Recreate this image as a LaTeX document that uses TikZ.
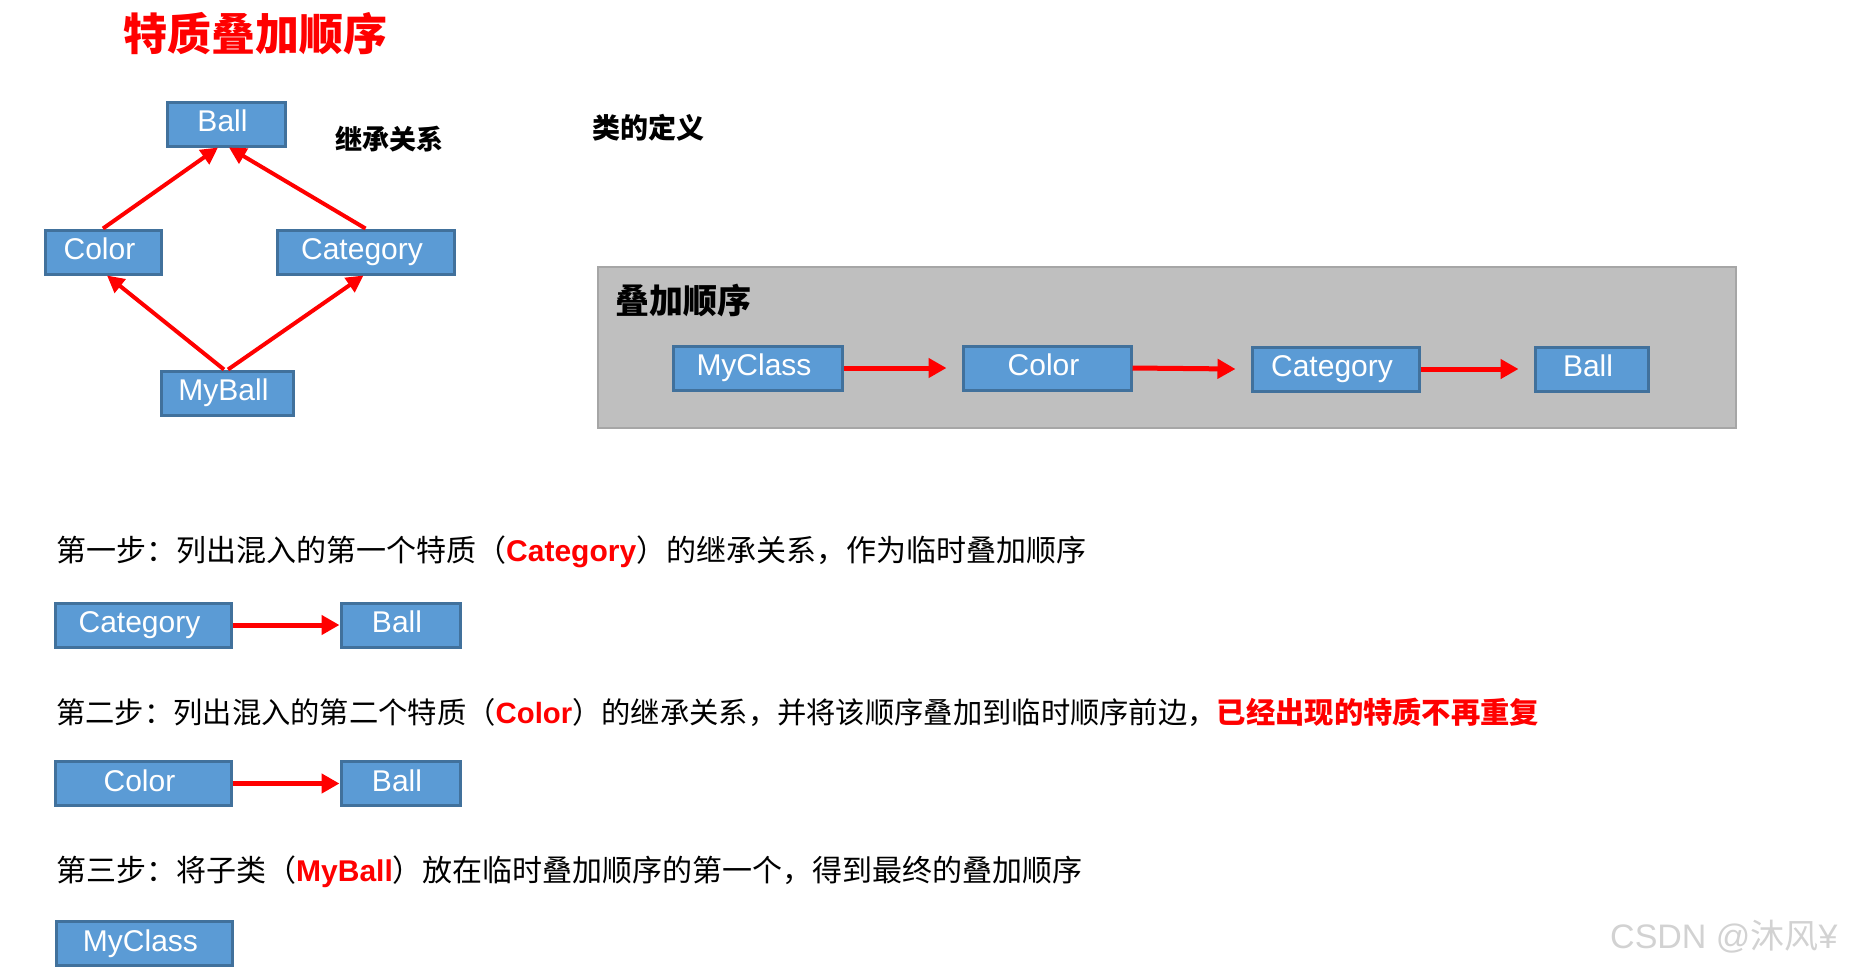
\documentclass[tikz,border=0pt]{standalone}
\usepackage{fontspec}
\setmainfont{Liberation Sans}
\newfontfamily\cjk{Noto Sans CJK SC}
\usetikzlibrary{arrows.meta}
\definecolor{boxfill}{HTML}{5B9BD5}
\definecolor{boxline}{HTML}{41719C}
\definecolor{grayfill}{HTML}{BFBFBF}
\definecolor{grayline}{HTML}{A6A6A6}
\newcommand{\lbl}[1]{#1\hspace*{7pt}}
\begin{document}
\begin{tikzpicture}[x=1pt,y=-1pt,
  cls/.style={draw=boxline, fill=boxfill, line width=3pt, text=white,
    font=\fontsize{30}{30}\selectfont, inner sep=0pt, text height=21pt,
    text depth=6pt, minimum height=44pt},
  inh/.style={draw=red, line width=4pt, -{Triangle[length=17pt,width=17pt]}},
  seq/.style={draw=red, line width=5pt, -{Triangle[length=18pt,width=19pt]}},
  steptext/.style={anchor=west, inner sep=0pt, font=\fontsize{30}{30}\selectfont}
]
\useasboundingbox (0,0) rectangle (1859,967);

% title and headings
\node[text=red, font=\cjk\bfseries\fontsize{44}{44}\selectfont, inner sep=0pt] (title) at (255,34) {特质叠加顺序};
\node[font=\cjk\bfseries\fontsize{27}{27}\selectfont, inner sep=0pt] (inhlabel) at (389,139) {继承关系};
\node[font=\cjk\bfseries\fontsize{28}{28}\selectfont, inner sep=0pt] (deflabel) at (648,128) {类的定义};

% inheritance diamond
\node[cls, minimum width=118pt] (ball) at (226,124) {\lbl{Ball}};
\node[cls, minimum width=116pt] (color) at (103,252) {\lbl{Color}};
\node[cls, minimum width=177pt] (category) at (365.5,252) {\lbl{Category}};
\node[cls, minimum width=132pt] (myball) at (227,393) {\lbl{MyBall}};
\draw[inh] (color.north) -- ([xshift=-8pt]ball.south);
\draw[inh] (category.north) -- ([xshift=3pt]ball.south);
\draw[inh] ([xshift=-3pt]myball.north) -- ([xshift=4pt]color.south);
\draw[inh] ([xshift=1pt]myball.north) -- ([xshift=-2pt]category.south);

% linearization panel
\node[draw=grayline, fill=grayfill, line width=1.5pt, minimum width=1138pt, minimum height=161pt, inner sep=0pt] (panel) at (1167,347.5) {};
\node[font=\cjk\bfseries\fontsize{34}{34}\selectfont, anchor=west, inner sep=0pt] (panellabel) at (615,300) {叠加顺序};
\node[cls, minimum width=169pt] (myclass) at (757.5,368) {\lbl{MyClass}};
\node[cls, minimum width=168pt] (color2) at (1047,368) {\lbl{Color}};
\node[cls, minimum width=167pt] (category2) at (1335.5,369) {\lbl{Category}};
\node[cls, minimum width=113pt] (ball2) at (1591.5,369) {\lbl{Ball}};
\draw[seq] (myclass.east) -- ([xshift=-15pt]color2.west);
\draw[seq] (color2.east) -- ([xshift=-15pt]category2.west);
\draw[seq] (category2.east) -- ([xshift=-15pt]ball2.west);

% step 1
\node[steptext] (step1) at (56,552) {{\cjk 第一步：列出混入的第一个特质（}{\color{red}\bfseries Category}{\cjk ）的继承关系，作为临时叠加顺序}};
\node[cls, minimum width=176pt] (cat3) at (143,625) {\lbl{Category}};
\node[cls, minimum width=119pt] (ball3) at (400.5,625) {\lbl{Ball}};
\draw[seq] (cat3.east) -- (ball3.west);

% step 2
\node[steptext, font=\fontsize{29.3}{29.3}\selectfont] (step2) at (56,712) {{\cjk 第二步：列出混入的第二个特质（}{\color{red}\bfseries Color}{\cjk ）的继承关系，并将该顺序叠加到临时顺序前边，}{\cjk\bfseries\color{red}已经出现的特质不再重复}};
\node[cls, minimum width=176pt] (color4) at (143,783.5) {\lbl{Color}};
\node[cls, minimum width=119pt] (ball4) at (400.5,783.5) {\lbl{Ball}};
\draw[seq] (color4.east) -- (ball4.west);

% step 3
\node[steptext] (step3) at (56,872) {{\cjk 第三步：将子类（}{\color{red}\bfseries MyBall}{\cjk ）放在临时叠加顺序的第一个，得到最终的叠加顺序}};
\node[cls, minimum width=176pt] (myclass5) at (144,943.5) {\lbl{MyClass}};

% watermark
\node[anchor=west, inner sep=0pt, text=gray!35, font=\fontsize{34}{34}\selectfont] (wm) at (1610,937) {CSDN @{\cjk 沐风}¥};
\end{tikzpicture}
\end{document}
